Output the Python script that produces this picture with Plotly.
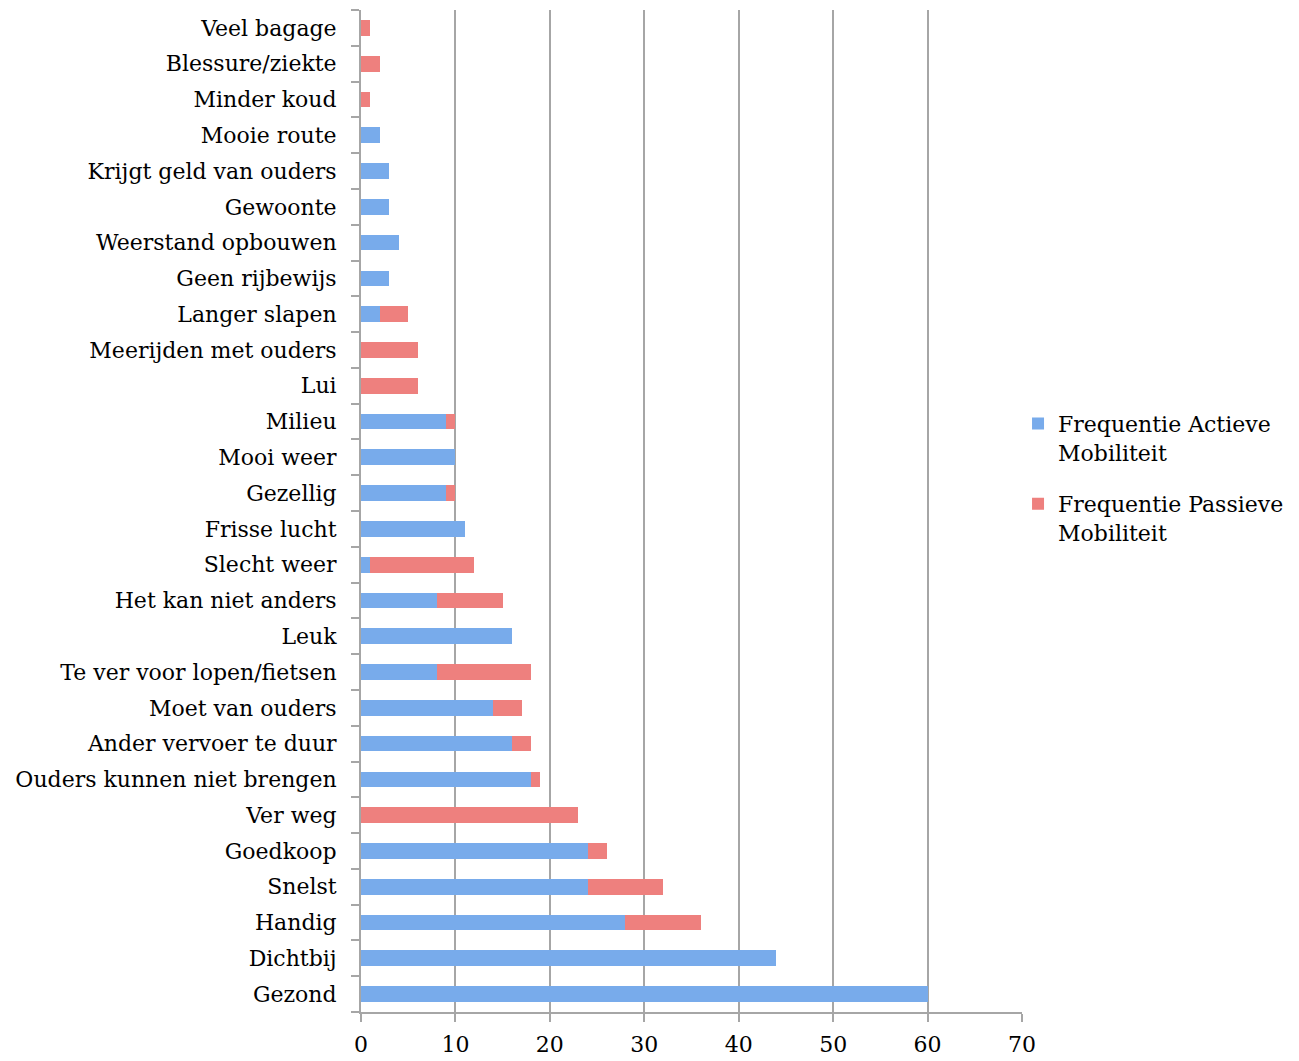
import plotly.graph_objects as go

categories = ["Gezond", "Dichtbij", "Handig", "Snelst", "Goedkoop", "Ver weg",
              "Ouders kunnen niet brengen", "Ander vervoer te duur", "Moet van ouders",
              "Te ver voor lopen/fietsen", "Leuk", "Het kan niet anders", "Slecht weer",
              "Frisse lucht", "Gezellig", "Mooi weer", "Milieu", "Lui",
              "Meerijden met ouders", "Langer slapen", "Geen rijbewijs",
              "Weerstand opbouwen", "Gewoonte", "Krijgt geld van ouders", "Mooie route",
              "Minder koud", "Blessure/ziekte", "Veel bagage"]
actief = [60, 44, 28, 24, 24, 0, 18, 16, 14, 8, 16, 8, 1, 11, 9, 10, 9, 0, 0, 2, 3, 4, 3, 3, 2, 0, 0, 0]
passief = [0, 0, 8, 8, 2, 23, 1, 2, 3, 10, 0, 7, 11, 0, 1, 0, 1, 6, 6, 3, 0, 0, 0, 0, 0, 1, 2, 1]
x_ticks = [0, 10, 20, 30, 40, 50, 60, 70]

FONT = "DejaVu Serif"

fig = go.Figure()
fig.add_trace(go.Bar(y=categories, x=actief, orientation="h",
                     name="Frequentie Actieve<br>Mobiliteit", legendgroup="a",
                     marker=dict(color="#78abeb", line=dict(width=0))))
fig.add_trace(go.Bar(y=categories, x=passief, orientation="h",
                     name="Frequentie Passieve<br>Mobiliteit", legendgroup="p",
                     marker=dict(color="#ee807e", line=dict(width=0))))

fig.update_layout(
    barmode="stack",
    bargap=0.56,
    width=1299, height=1061,
    margin=dict(l=361, r=277, t=10, b=49, autoexpand=False),
    paper_bgcolor="white", plot_bgcolor="white",
    font=dict(family=FONT, size=22, color="black"),
    legend=dict(x=0.994, y=0.608, xanchor="left", yanchor="top",
                traceorder="grouped", valign="top",
                font=dict(family=FONT, size=22), tracegroupgap=20,
                itemwidth=30),
)
fig.update_xaxes(range=[0, 70], tickvals=x_ticks, showgrid=True,
                 gridcolor="#a6a6a6", gridwidth=2,
                 showline=True, linecolor="#a6a6a6", linewidth=2,
                 ticks="outside", ticklen=8, tickcolor="#a6a6a6", tickwidth=2,
                 ticklabelstandoff=4, zeroline=False, automargin=False,
                 tickfont=dict(family=FONT, size=22))
fig.update_yaxes(type="category", showline=True, linecolor="#a6a6a6", linewidth=2,
                 ticks="outside", ticklen=8, tickcolor="#a6a6a6", tickwidth=2,
                 tickson="boundaries", ticklabelstandoff=18, showgrid=False,
                 automargin=False,
                 tickfont=dict(family=FONT, size=22))

fig.write_html("out.html")
